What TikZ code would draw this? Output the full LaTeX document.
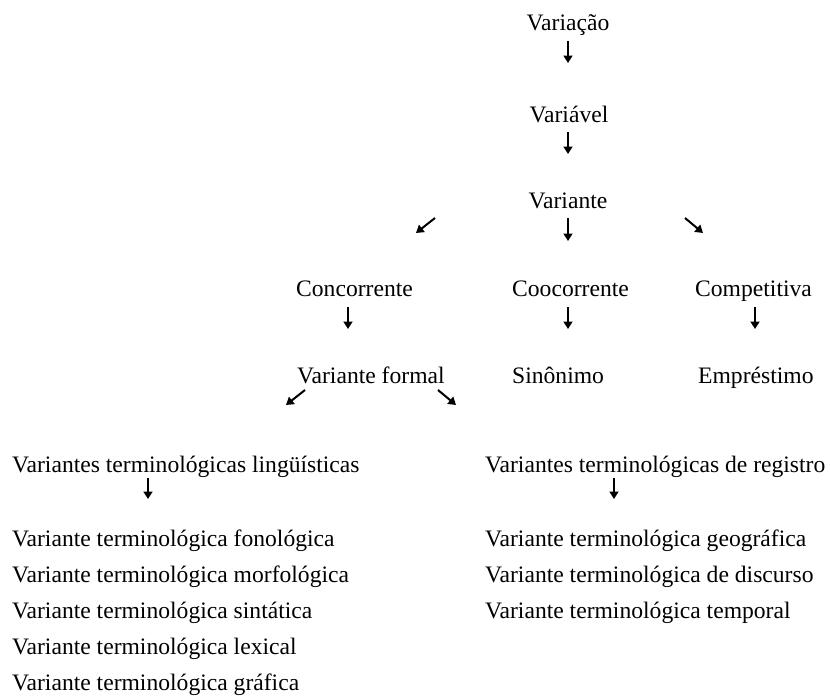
\documentclass[tikz,border=0pt]{standalone}
\usepackage{fontspec}
\setmainfont{Liberation Serif}
\usetikzlibrary{arrows.meta}
\begin{document}
\begin{tikzpicture}[x=1pt,y=-1pt,
  lbl/.style={inner sep=0pt,anchor=base,font=\fontsize{23.6}{28}\selectfont},
  lbll/.style={lbl,anchor=base west},
  arr/.style={line width=2pt,-{Triangle[length=7.5pt,width=9pt]}}]
\useasboundingbox (0,0) rectangle (830,696);
% top chain
\node[lbl] (variacao) at (568,30) {Variação};
\node[lbl] (variavel) at (569,122) {Variável};
\node[lbl] (variante) at (568,208) {Variante};
\coordinate (a1s) at (568,41); \coordinate (a1e) at (568,63);
\coordinate (a2s) at (568,132); \coordinate (a2e) at (568,154);
\coordinate (a3s) at (568,218); \coordinate (a3e) at (568,241);
\coordinate (a3ls) at (435,218); \coordinate (a3le) at (416,233);
\coordinate (a3rs) at (685,218); \coordinate (a3re) at (703,233);
\draw[arr] (a1s) -- (a1e);
\draw[arr] (a2s) -- (a2e);
\draw[arr] (a3s) -- (a3e);
\draw[arr] (a3ls) -- (a3le);
\draw[arr] (a3rs) -- (a3re);
% second level
\node[lbll] (concorrente) at (296,296) {Concorrente};
\node[lbll] (coocorrente) at (512,296) {Coocorrente};
\node[lbll] (competitiva) at (695,296) {Competitiva};
\coordinate (b1s) at (348,307); \coordinate (b1e) at (348,329);
\coordinate (b2s) at (568,307); \coordinate (b2e) at (568,329);
\coordinate (b3s) at (755,307); \coordinate (b3e) at (755,329);
\draw[arr] (b1s) -- (b1e);
\draw[arr] (b2s) -- (b2e);
\draw[arr] (b3s) -- (b3e);
% third level
\node[lbll] (formal) at (297,383) {Variante formal};
\node[lbll] (sinonimo) at (512,383) {Sinônimo};
\node[lbll] (emprestimo) at (698,383) {Empréstimo};
\coordinate (c1s) at (305,390); \coordinate (c1e) at (286,405);
\coordinate (c2s) at (438,390); \coordinate (c2e) at (456,405);
\draw[arr] (c1s) -- (c1e);
\draw[arr] (c2s) -- (c2e);
% fourth level
\node[lbll] (ling) at (12,472) {Variantes terminológicas lingüísticas};
\node[lbll] (reg) at (485,472) {Variantes terminológicas de registro};
\coordinate (d1s) at (148,478); \coordinate (d1e) at (148,499);
\coordinate (d2s) at (614,478); \coordinate (d2e) at (614,499);
\draw[arr] (d1s) -- (d1e);
\draw[arr] (d2s) -- (d2e);
% lists
\node[lbll] (fon) at (12,546) {Variante terminológica fonológica};
\node[lbll] (mor) at (12,582) {Variante terminológica morfológica};
\node[lbll] (sin) at (12,618) {Variante terminológica sintática};
\node[lbll] (lex) at (12,654) {Variante terminológica lexical};
\node[lbll] (gra) at (12,690) {Variante terminológica gráfica};
\node[lbll] (geo) at (485,546) {Variante terminológica geográfica};
\node[lbll] (dis) at (485,582) {Variante terminológica de discurso};
\node[lbll] (tem) at (485,618) {Variante terminológica temporal};
\end{tikzpicture}
\end{document}
